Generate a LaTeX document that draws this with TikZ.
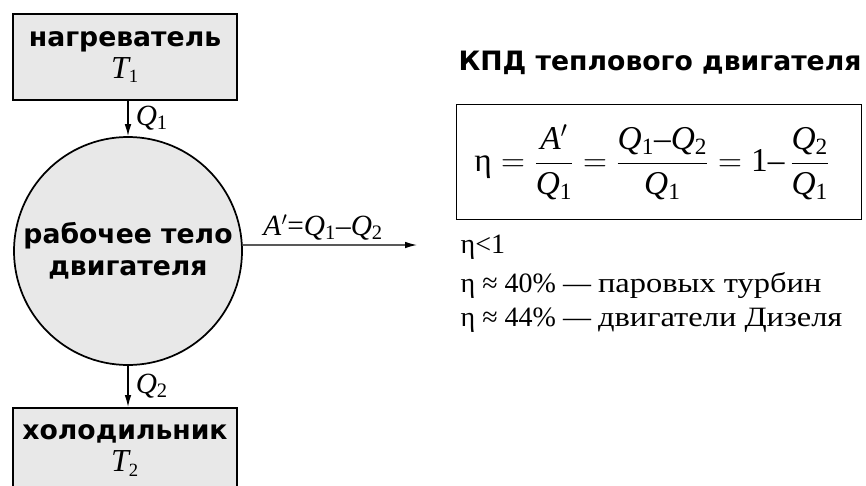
\documentclass[tikz,border=0pt]{standalone}
\usepackage{amsmath}
\usepackage{fontspec}
\setmainfont{Liberation Serif}
\newfontfamily\labelfont{DejaVu Sans}
\newfontfamily\wordfont{Liberation Serif}[FakeStretch=1.16]
\usetikzlibrary{arrows.meta, positioning, calc}

\newcommand{\qi}[1]{\textit{Q}\textsubscript{\upshape #1}}
\newcommand{\temp}[1]{{\fontsize{24}{24}\selectfont\itshape T}\textsubscript{#1}}

\begin{document}
\begin{tikzpicture}[
    x=0.75pt, y=-0.75pt,
    reservoir/.style={draw, line width=1.3pt, fill=gray!18, minimum width=168pt, minimum height=64pt, align=center, inner sep=1pt, font=\fontsize{20}{24}\selectfont},
    body/.style={draw, circle, line width=1.3pt, fill=gray!18, minimum size=171pt, inner sep=0pt, align=center, font=\fontsize{20}{24}\selectfont},
    flow/.style={->, line width=1pt},
    heat/.style={font=\fontsize{22}{24}\selectfont},
    note/.style={anchor=west, font=\fontsize{21}{24}\selectfont},
    >={Latex[length=9pt,width=5pt]},
]
    \useasboundingbox (0,0) rectangle (866,485);
    \clip (0,0) rectangle (866,485);

    \node[reservoir] (hot) at (125,57) {{\labelfont\bfseries нагреватель}\\\temp{1}};
    \node[body] (body) at (128,251) {{\labelfont\bfseries рабочее тело}\\{\labelfont\bfseries двигателя}};
    \node[reservoir, anchor=north] (cold) at (125,407) {{\labelfont\bfseries холодильник}\\\temp{2}};
    \coordinate (workend) at (417,245);

    \draw[flow] (body.north |- hot.south) -- (body.north) node[heat, midway, right=2pt] {\qi{1}};
    \draw[flow] (body.south) -- (body.south |- cold.north) node[heat, midway, right=2pt] {\qi{2}};
    \draw[flow] (body.3) -- (workend) node[heat, midway, above=0pt, xshift=-5pt] {\textit{A}$'$=\qi{1}–\qi{2}};

    % efficiency
    \node[font=\labelfont\bfseries\fontsize{20}{24}\selectfont] (title) at (660,63) {КПД теплового двигателя};
    \node[draw, line width=1pt, minimum width=304pt, minimum height=86pt] (frame) at (659,162) {};
    \node[font=\fontsize{25}{28}\selectfont] (eff) at (652,162)
        {$\text{η} = \dfrac{\text{\textit{A}$'$}}{\text{\qi{1}}} = \dfrac{\text{\qi{1}–\qi{2}}}{\text{\qi{1}}} = \text{1–}\,\dfrac{\text{\qi{2}}}{\text{\qi{1}}}$};
    \node[note] (lim) at (456,247) {η<1};
    \node[note] (steam) at (456,285) {η ≈ 40\% — {\wordfont паровых турбин}};
    \node[note] (diesel) at (456,320) {η ≈ 44\% — {\wordfont двигатели Дизеля}};
\end{tikzpicture}
\end{document}
